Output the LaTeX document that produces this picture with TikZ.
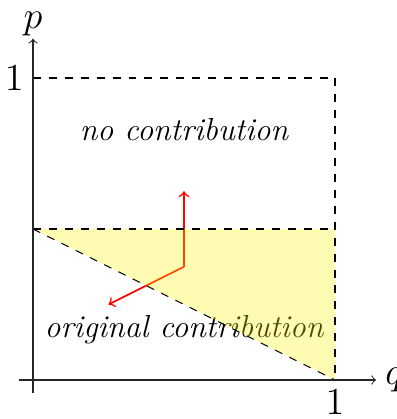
\documentclass[tikz,border=0pt]{standalone}
\usetikzlibrary{positioning}

\begin{document}
\begin{tikzpicture}[
  x = 4cm, y = 4cm,
  axis/.style   = {->, draw=black!85},
  bound/.style  = {dashed},
  move/.style   = {->, red, semithick},
  region/.style = {fill=yellow, fill opacity=0.3},
  lbl/.style    = {font=\large\itshape},
  tick/.style   = {font=\Large},
]
  \useasboundingbox (-33/302, -39/302) rectangle (363/302, 380/302);

  \coordinate (tl) at (0,1);
  \coordinate (tr) at (1,1);
  \coordinate (ml) at (0,0.5);
  \coordinate (mr) at (1,0.5);
  \coordinate (br) at (1,0);

  \node[lbl] (none) at (0.5,0.83)  {no contribution};
  \node[lbl] (orig) at (0.5,0.166) {original contribution};

  % trajectory
  \coordinate (s)  at (0.5,0.375);
  \coordinate (up) at (0.5,0.625);
  \coordinate (dn) at (0.25,0.25);
  \draw[move] (s) -- (up);
  \draw[move] (s) -- (dn);

  \fill[region] (ml) -- (mr) -- (br) -- cycle;

  \draw[bound] (tl) -- (tr) -- (br);
  \draw[bound] (ml) -- (mr);
  \draw[bound] (ml) -- (br);

  \draw[axis] (-0.046,0) -- (1.136,0) node[right, tick] (q) {$q$};
  \draw[axis] (0,-0.043) -- (0,1.13) node[above, tick, inner sep=1pt] (p) {$p$};
  \node[tick, left=0pt of tl] (one-p) {$1$};
  \node[tick, below=0pt of br] (one-q) {$1$};
\end{tikzpicture}
\end{document}
